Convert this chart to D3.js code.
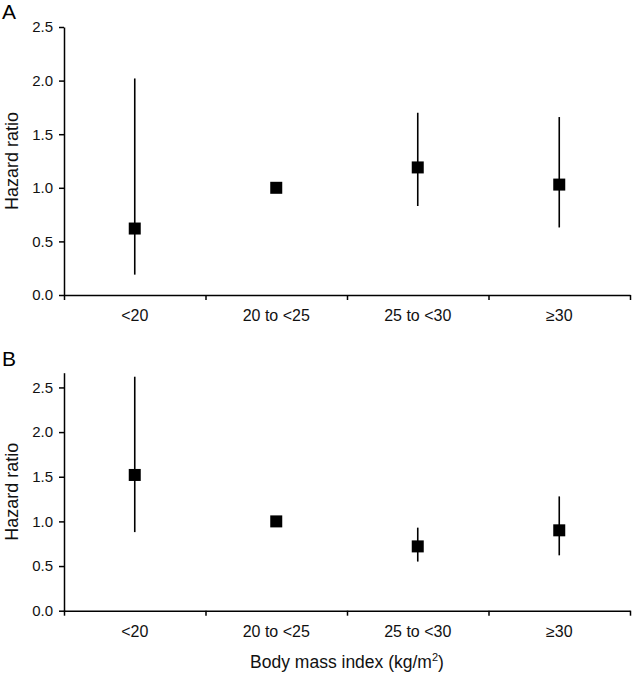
<!DOCTYPE html>
<html><head><meta charset="utf-8">
<script src="https://cdn.jsdelivr.net/npm/d3@7/dist/d3.min.js"></script>
<style>body{margin:0;background:#fff}svg{display:block;font-family:"Liberation Sans",Arial,sans-serif}</style>
</head><body><svg id="c" width="632" height="675"></svg>
<script>
const categories = ["<20", "20 to <25", "25 to <30", "\u226530"];
const hrA = [0.62, 1.00, 1.19, 1.03];
const loA = [0.19, null, 0.83, 0.63];
const hiA = [2.02, null, 1.70, 1.66];
const hrB = [1.52, 1.00, 0.72, 0.90];
const loB = [0.88, null, 0.55, 0.62];
const hiB = [2.62, null, 0.93, 1.28];
const yTicks = [0, 0.5, 1.0, 1.5, 2.0, 2.5];

const svg = d3.select("#c");
const x0 = 64, x1 = 630;
const x = d3.scaleBand().domain(categories).range([x0, x1]);
const xl = d3.scaleLinear().domain([0, categories.length]).range([x0, x1]);
const FF = "Liberation Sans, Arial, sans-serif";

function panel(letter, hr, lo, hi, yTop, yBot, yMax, lblY) {
  const y = d3.scaleLinear().domain([0, yMax]).range([yBot, yTop]);
  const g = svg.append("g");
  const ya = g.append("g").attr("transform", `translate(${x0},0)`)
    .call(d3.axisLeft(y).tickValues(yTicks).tickFormat(d3.format(".1f")).tickSize(5).tickSizeOuter(0));
  ya.select(".domain").attr("stroke", "#000").attr("stroke-width", 1.5);
  ya.selectAll(".tick line").attr("stroke", "#000").attr("stroke-width", 1.5);
  ya.selectAll(".tick text").attr("font-size", 15).attr("fill", "#111").attr("font-family", FF).attr("x", -11);
  const xa = g.append("g").attr("transform", `translate(0,${yBot})`)
    .call(d3.axisBottom(xl).tickValues(d3.range(categories.length + 1)).tickFormat("").tickSize(5).tickSizeOuter(0));
  xa.select(".domain").attr("stroke", "#000").attr("stroke-width", 1.5);
  xa.selectAll(".tick line").attr("stroke", "#000").attr("stroke-width", 1.5);
  const xlab = g.append("g").attr("transform", `translate(0,${yBot})`)
    .call(d3.axisBottom(x).tickSize(0).tickPadding(15));
  xlab.select(".domain").remove();
  xlab.selectAll(".tick text").attr("font-size", 16).attr("fill", "#111").attr("font-family", FF);
  g.append("text").attr("transform", `translate(18,${(yTop + yBot) / 2}) rotate(-90)`)
    .attr("text-anchor", "middle").attr("font-size", 18).attr("fill", "#111").text("Hazard ratio");
  g.append("text").attr("x", 2).attr("y", lblY).attr("font-size", 21).attr("fill", "#000").text(letter);
  categories.forEach((c, i) => {
    const cx = x(c) + x.bandwidth() / 2;
    if (lo[i] != null) {
      g.append("line").attr("x1", cx).attr("x2", cx).attr("y1", y(lo[i])).attr("y2", y(hi[i]))
        .attr("stroke", "#000").attr("stroke-width", 1.6);
    }
    g.append("rect").attr("x", cx - 6).attr("y", y(hr[i]) - 6).attr("width", 12).attr("height", 12).attr("fill", "#000");
  });
}

panel("A", hrA, loA, hiA, 27, 295, 2.5, 19);
panel("B", hrB, loB, hiB, 372.7, 610.7, 2.665, 366);

const t = svg.append("text").attr("x", (x0 + x1) / 2).attr("y", 668).attr("text-anchor", "middle")
  .attr("font-size", 17.5).attr("fill", "#111");
t.append("tspan").text("Body mass index (kg/m");
t.append("tspan").attr("font-size", 11).attr("dy", -7).text("2");
t.append("tspan").attr("dy", 7).text(")");
</script></body></html>
